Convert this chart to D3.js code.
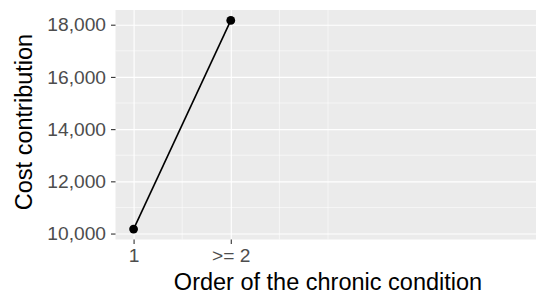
<!DOCTYPE html>
<html>
<head>
<meta charset="utf-8">
<script src="https://cdn.jsdelivr.net/npm/d3@7"></script>
<style>
  html,body{margin:0;padding:0;background:#fff;}
  text{font-family:"Liberation Sans",Arial,sans-serif;}
</style>
</head>
<body>
<div id="chart"></div>
<script>
// data
const categories=["1",">= 2"];
const positions=[1,2];
const costValues=[10170,18165];
const yTicks=[10000,12000,14000,16000,18000];
const yMinor=[11000,13000,15000,17000];
const xMinor=[1.5,2.5,3];

(function(){
  const W=536,H=299;
  const m={top:10,right:0,bottom:59.5,left:115.5};
  const w=W-m.left-m.right, ih=H-m.top-m.bottom;
  const svg=d3.select("#chart").append("svg").attr("width",W).attr("height",H);
  const g=svg.append("g").attr("transform",`translate(${m.left},${m.top})`);

  const x=d3.scaleLinear().domain([0.814,5.14]).range([0,w]);
  const y=d3.scaleLinear().domain([9772,18563]).range([ih,0]);

  g.append("rect").attr("width",w).attr("height",ih).attr("fill","#EBEBEB");

  // minor grid
  g.selectAll(".ymin").data(yMinor).join("line")
    .attr("x1",0).attr("x2",w).attr("y1",d=>y(d)).attr("y2",d=>y(d))
    .attr("stroke","#fff").attr("stroke-width",0.55);
  g.selectAll(".xmin").data(xMinor).join("line")
    .attr("y1",0).attr("y2",ih).attr("x1",d=>x(d)).attr("x2",d=>x(d))
    .attr("stroke","#fff").attr("stroke-width",0.55);

  // major grid + axes
  g.append("g")
    .call(d3.axisLeft(y).tickValues(yTicks).tickFormat(d3.format(",")).tickSize(-w).tickPadding(0))
    .call(s=>s.select(".domain").remove())
    .call(s=>s.selectAll("line").attr("stroke","#fff").attr("stroke-width",1.1))
    .call(s=>s.selectAll("text").remove());
  g.append("g")
    .call(d3.axisBottom(x).tickValues(positions).tickSize(ih))
    .call(s=>s.select(".domain").remove())
    .call(s=>s.selectAll("line").attr("stroke","#fff").attr("stroke-width",1.1))
    .call(s=>s.selectAll("text").remove());

  g.append("g")
    .call(d3.axisLeft(y).tickValues(yTicks).tickFormat(d3.format(",")).tickSize(4.5).tickPadding(5))
    .call(s=>s.select(".domain").remove())
    .call(s=>s.selectAll("line").attr("stroke","#333").attr("stroke-width",1.1))
    .call(s=>s.selectAll("text").attr("fill","#4D4D4D").attr("font-size",19.2)
      .attr("font-family","'Liberation Sans',Arial,sans-serif"));
  g.append("g").attr("transform",`translate(0,${ih})`)
    .call(d3.axisBottom(x).tickValues(positions).tickFormat((d,i)=>categories[i]).tickSize(4.5).tickPadding(4))
    .call(s=>s.select(".domain").remove())
    .call(s=>s.selectAll("line").attr("stroke","#333").attr("stroke-width",1.1))
    .call(s=>s.selectAll("text").attr("fill","#4D4D4D").attr("font-size",19.2)
      .attr("font-family","'Liberation Sans',Arial,sans-serif"));

  const pts=positions.map((p,i)=>({x:p,y:costValues[i]}));
  g.append("path").datum(pts).attr("fill","none").attr("stroke","#000").attr("stroke-width",1.6)
    .attr("d",d3.line().x(d=>x(d.x)).y(d=>y(d.y)));
  g.selectAll(".pt").data(pts).join("circle")
    .attr("cx",d=>x(d.x)).attr("cy",d=>y(d.y)).attr("r",4.4).attr("fill","#000");

  svg.append("text").attr("x",328).attr("y",290).attr("text-anchor","middle")
    .attr("font-size",23.5).attr("fill","#000").text("Order of the chronic condition");
  svg.append("text").attr("transform","translate(32,122) rotate(-90)").attr("text-anchor","middle")
    .attr("font-size",23.5).attr("fill","#000").text("Cost contribution");
})();
</script>
</body>
</html>
